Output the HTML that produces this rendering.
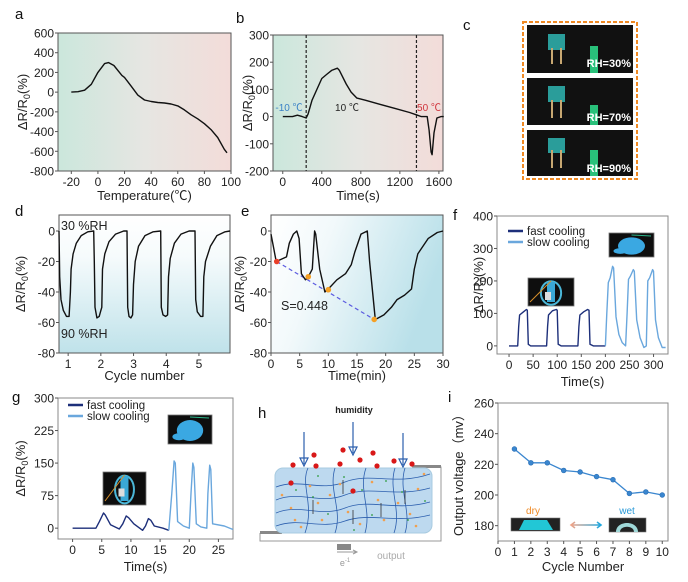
<!DOCTYPE html>
<html><head><meta charset="utf-8">
<style>
html,body{margin:0;padding:0;background:#fff;}
svg{display:block;font-family:"Liberation Sans","Noto Sans CJK SC",sans-serif;}
</style></head>
<body>
<svg id="fig" width="688" height="582" viewBox="0 0 688 582" xmlns="http://www.w3.org/2000/svg">
<defs>
<linearGradient id="gA" x1="0" x2="1" y1="0" y2="0"><stop offset="0" stop-color="#cbe7dc"/><stop offset="0.5" stop-color="#e6e6e2"/><stop offset="1" stop-color="#f3dcd9"/></linearGradient>
<linearGradient id="gD" x1="0" x2="0" y1="0" y2="1"><stop offset="0" stop-color="#ffffff"/><stop offset="0.3" stop-color="#f6fbfc"/><stop offset="1" stop-color="#bfe2ea"/></linearGradient>
<linearGradient id="gE" x1="0" x2="1" y1="0" y2="0.3"><stop offset="0" stop-color="#ffffff"/><stop offset="0.35" stop-color="#f2f9fb"/><stop offset="1" stop-color="#b9e0e9"/></linearGradient>
<linearGradient id="gArr" x1="0" x2="1"><stop offset="0" stop-color="#f2a487"/><stop offset="1" stop-color="#1aa7e0"/></linearGradient>
</defs>
<g id="charts"></g>

<g>
<text x="463" y="30" font-size="15" fill="#111">c</text>
<rect x="523" y="22" width="114" height="157" fill="#fff" stroke="#f08a24" stroke-width="2" stroke-dasharray="4,2"/>
<g>
<rect x="527" y="25" width="106" height="48" fill="#111"/>
<rect x="548" y="34" width="17" height="16" fill="#2a9d9a"/>
<rect x="551" y="48" width="2" height="16" fill="#c8a872"/><rect x="560" y="48" width="2" height="16" fill="#c8a872"/>
<rect x="590" y="46" width="8" height="27" fill="#29c07a"/>
<text x="631" y="67" font-size="11" font-weight="bold" fill="#fff" text-anchor="end">RH=30%</text>
</g>
<g>
<rect x="527" y="78" width="106" height="47" fill="#111"/>
<rect x="548" y="86" width="17" height="16" fill="#2a9d9a"/>
<rect x="551" y="100" width="2" height="18" fill="#c8a872"/><rect x="560" y="100" width="2" height="18" fill="#c8a872"/>
<rect x="590" y="105" width="8" height="20" fill="#29c07a"/>
<text x="631" y="121" font-size="11" font-weight="bold" fill="#fff" text-anchor="end">RH=70%</text>
</g>
<g>
<rect x="527" y="130" width="106" height="46" fill="#111"/>
<rect x="548" y="138" width="17" height="15" fill="#2a9d9a"/>
<rect x="551" y="150" width="2" height="18" fill="#c8a872"/><rect x="560" y="150" width="2" height="18" fill="#c8a872"/>
<rect x="590" y="150" width="8" height="26" fill="#29c07a"/>
<text x="631" y="172" font-size="11" font-weight="bold" fill="#fff" text-anchor="end">RH=90%</text>
</g>
</g>

<g>
<text x="258" y="418" font-size="15" fill="#111">h</text>
<text x="354" y="413" font-size="9" font-weight="bold" fill="#222" text-anchor="middle">humidity</text>
<path d="M260,533 V541 H441 V467 H412" fill="none" stroke="#999" stroke-width="1"/>
<rect x="260" y="531" width="22" height="3" fill="#888"/>
<rect x="413" y="465" width="28" height="3" fill="#888"/>
<rect x="337" y="544" width="14" height="6" fill="#888"/>
<rect x="275" y="468" width="157" height="65" rx="8" fill="#bdd9ef" stroke="#a8cbe0"/>
<g fill="none" stroke="#2c5fae" stroke-width="0.8">
<path d="M276,487 C300,478 320,492 345,482 C370,472 395,486 430,474"/>
<path d="M276,500 C300,490 320,505 345,495 C370,485 395,498 430,488"/>
<path d="M276,513 C300,503 320,518 345,508 C370,498 395,512 430,502"/>
<path d="M276,526 C300,517 320,530 345,521 C370,512 395,524 430,515"/>
<path d="M308,468 C300,485 315,505 305,533"/>
<path d="M335,468 C328,490 343,510 335,533"/>
<path d="M366,468 C358,490 372,510 365,533"/>
<path d="M395,468 C388,490 402,510 394,533"/>
<path d="M405,468 C398,490 412,512 405,533"/>
</g>
<g stroke="#2c5fae" stroke-width="1.2" fill="#2c5fae">
<line x1="304" y1="432" x2="304" y2="464"/><path d="M300,458 L304,466 L308,458Z" fill="none"/>
<line x1="353" y1="422" x2="353" y2="453"/><path d="M349,447 L353,455 L357,447Z" fill="none"/>
<line x1="403" y1="433" x2="403" y2="465"/><path d="M399,459 L403,467 L407,459Z" fill="none"/>
</g>
<g fill="#d81818">
<circle cx="293" cy="465" r="2.6"/><circle cx="314" cy="455" r="2.6"/><circle cx="316" cy="466" r="2.6"/>
<circle cx="343" cy="450" r="2.6"/><circle cx="340" cy="464" r="2.6"/><circle cx="360" cy="460" r="2.6"/>
<circle cx="373" cy="453" r="2.6"/><circle cx="377" cy="466" r="2.6"/><circle cx="394" cy="461" r="2.6"/>
<circle cx="412" cy="464" r="2.6"/><circle cx="291" cy="483" r="2.6"/><circle cx="353" cy="491" r="2.6"/>
</g>
<g fill="#f0a050">
<circle cx="282" cy="495" r="1.3"/><circle cx="291" cy="508" r="1.3"/><circle cx="295" cy="520" r="1.3"/><circle cx="310" cy="486" r="1.3"/>
<circle cx="318" cy="503" r="1.3"/><circle cx="322" cy="520" r="1.3"/><circle cx="340" cy="484" r="1.3"/><circle cx="348" cy="512" r="1.3"/>
<circle cx="372" cy="482" r="1.3"/><circle cx="378" cy="500" r="1.3"/><circle cx="384" cy="520" r="1.3"/><circle cx="398" cy="503" r="1.3"/>
<circle cx="410" cy="514" r="1.3"/><circle cx="418" cy="489" r="1.3"/><circle cx="424" cy="474" r="1.3"/><circle cx="416" cy="526" r="1.3"/>
<circle cx="301" cy="527" r="1.3"/><circle cx="360" cy="524" r="1.3"/><circle cx="330" cy="495" r="1.3"/>
</g>
<g fill="#2a9a3a">
<circle cx="296" cy="490" r="0.9"/><circle cx="313" cy="497" r="0.9"/><circle cx="328" cy="514" r="0.9"/><circle cx="344" cy="477" r="0.9"/>
<circle cx="362" cy="490" r="0.9"/><circle cx="372" cy="515" r="0.9"/><circle cx="386" cy="481" r="0.9"/><circle cx="402" cy="492" r="0.9"/>
<circle cx="408" cy="520" r="0.9"/><circle cx="425" cy="501" r="0.9"/><circle cx="318" cy="476" r="0.9"/><circle cx="354" cy="530" r="0.9"/>
</g>
<g stroke="#333" stroke-width="0.8" fill="#333">
<line x1="313" y1="500" x2="313" y2="514"/><line x1="343" y1="480" x2="343" y2="494"/><line x1="353" y1="510" x2="353" y2="524"/>
<line x1="381" y1="503" x2="381" y2="517"/><line x1="405" y1="490" x2="405" y2="504"/>
</g>
<line x1="337" y1="552" x2="356" y2="552" stroke="#999" stroke-width="1"/>
<path d="M353,550 L357,552 L353,554" fill="none" stroke="#999"/>
<text x="345" y="566" font-size="9" fill="#999" text-anchor="middle">e<tspan font-size="6" dy="-4">-1</tspan></text>
<text x="391" y="559" font-size="10" fill="#aaa" text-anchor="middle">output</text>
</g>
</svg>
<script>
const aTemp = [-20,-15,-10,-5,0,5,8,12,18,20,25,30,35,40,45,50,55,60,65,70,75,80,85,90,95,97];
const aResp = [0,5,20,80,200,290,300,270,170,150,60,-30,-80,-95,-105,-110,-120,-140,-180,-230,-270,-320,-380,-460,-580,-615];
const aXTicks = [-20,0,20,40,60,80,100];
const aYTicks = [600,400,200,0,-200,-400,-600,-800];

const bTime = [0,100,150,200,240,260,300,350,400,450,500,560,580,650,700,760,850,1000,1150,1300,1380,1420,1480,1500,1520,1530,1550,1580,1620,1650];
const bResp = [0,0,5,0,-5,10,60,100,140,155,170,178,170,120,90,68,60,45,30,15,5,0,0,-50,-130,-140,-60,-5,0,0];
const bXTicks = [0,400,800,1200,1600];
const bYTicks = [300,200,100,0,-100,-200];
const bDashes = [240,1370];

const dCycle = [0.72,0.74,0.78,0.85,0.95,1.03,1.07,1.09,1.15,1.25,1.4,1.6,1.78,1.80,1.82,1.88,1.95,2.0,2.03,2.05,2.12,2.25,2.45,2.7,2.80,2.82,2.86,2.92,2.97,3.0,3.05,3.15,3.35,3.6,3.83,3.85,3.9,3.98,4.04,4.07,4.12,4.25,4.45,4.7,4.88,4.90,4.95,5.05,5.12,5.15,5.2,5.35,5.55,5.8,5.95];
const dResp = [0,-30,-45,-52,-56,-56,-40,-25,-15,-8,-3,-0.5,0,-20,-50,-57,-56,-52,-50,-25,-15,-7,-2,0,0,-50,-56,-57,-55,-35,-20,-10,-3,-0.5,0,-50,-55,-56,-55,-30,-18,-8,-2,0,0,-45,-53,-56,-56,-30,-20,-10,-3,-0.5,0];
const dXTicks = [1,2,3,4,5];
const dYTicks = [0,-20,-40,-60,-80];

const eTime = [0,0.5,0.9,1.5,2.7,3.2,3.9,4.5,4.9,5.3,6.0,6.5,7.2,7.6,7.8,8.5,9.4,10,11.5,13,14,14.6,15.7,16.8,17.2,18.2,19.7,21,22,23.3,24.5,25,25.6,27.4,29,30];
const eResp = [-2,-12,-20,-19,-17,-8,-2,0,-5,-28,-32,-30,-25,0,-2,-25,-40,-38,-32,-28,-22,-14,-2,0,-20,-58,-55,-50,-45,-42,-38,-25,-15,-5,-1,0];
const eMarkT = [1,6.5,10,18];
const eMarkV = [-20,-30,-38.5,-58];
const eXTicks = [0,5,10,15,20,25,30];
const eYTicks = [0,-20,-40,-60,-80];

const fFastT = [0,18,20,22,30,36,38,40,45,60,78,80,82,90,98,100,102,108,130,143,145,147,155,163,166,168,175,200];
const fFastV = [0,0,60,95,105,112,110,5,0,0,0,60,95,108,112,110,5,0,0,0,60,95,105,112,110,5,0,0];
const fSlowT = [200,203,206,210,215,217,222,228,235,242,245,248,252,258,260,265,272,280,285,288,292,298,300,304,310,318,325];
const fSlowV = [0,100,195,210,245,240,90,35,10,0,100,205,215,235,230,80,25,-5,0,200,210,235,230,80,25,-5,-5];
const fXTicks = [0,50,100,150,200,250,300];
const fYTicks = [0,100,200,300,400];

const gFastT = [0,2,4,4.6,5.3,5.6,6.5,8,8.6,9.2,9.6,10.5,12,12.5,13,13.4,14,15.5,16.5];
const gFastV = [0,0,0,15,35,30,8,-2,10,28,24,10,-5,5,22,18,5,0,-5];
const gSlowT = [16.5,17.0,17.4,17.6,18.0,19,20,20.3,20.6,20.8,21.2,22,23,23.2,23.5,23.7,24,26,27.5];
const gSlowV = [-5,80,155,150,15,5,0,80,150,140,10,3,0,80,145,135,10,5,-3];
const gXTicks = [0,5,10,15,20,25];
const gYTicks = [0,75,150,225,300];

const iCycle = [1,2,3,4,5,6,7,8,9,10];
const iVolt = [230,221,221,216,215,212,210,201,202,200];
const iXTicks = [0,1,2,3,4,5,6,7,8,9,10];
const iYTicks = [180,200,220,240,260];

const NS = 'http://www.w3.org/2000/svg';
const root = document.getElementById('charts');
function mk(tag, attrs, parent) {
  const e = document.createElementNS(NS, tag);
  for (const k in attrs) e.setAttribute(k, attrs[k]);
  (parent || root).appendChild(e);
  return e;
}
function txt(str, x, y, size, anchor, parent, fill) {
  const t = mk('text', {x: x, y: y, 'font-size': size, 'text-anchor': anchor || 'middle', fill: fill || '#222'}, parent);
  t.textContent = str;
  return t;
}
function panel(c) {
  const g = mk('g', {});
  
  
  const sx = v => c.x0 + (v - c.xmin) / (c.xmax - c.xmin) * (c.x1 - c.x0);
  const sy = v => c.y1 - (v - c.ymin) / (c.ymax - c.ymin) * (c.y1 - c.y0);
  const bg = mk('rect', {x: c.x0, y: c.y0, width: c.x1 - c.x0, height: c.y1 - c.y0, fill: c.bg || '#fff'}, g);
  
  
  const frame = mk('rect', {x: c.x0, y: c.y0, width: c.x1 - c.x0, height: c.y1 - c.y0, fill: 'none', stroke: c.frame || '#555', 'stroke-width': 1}, g);
  
  
  const xa = mk('g', {}, g);
  
  
  c.xt.forEach(v => {
    mk('line', {x1: sx(v), x2: sx(v), y1: c.y1, y2: c.y1 + 3, stroke: '#555'}, xa);
    const t = txt(String(v), sx(v), c.y1 + 15, 12, 'middle', xa);
    
    
  });
  const ya = mk('g', {}, g);
  
  
  c.yt.forEach(v => {
    mk('line', {x1: c.x0 - 3, x2: c.x0, y1: sy(v), y2: sy(v), stroke: '#555'}, ya);
    const t = txt(String(v), c.x0 - 4, sy(v) + 4.5, 12, 'end', ya);
    
    
  });
  const xl = txt(c.xlab, (c.x0 + c.x1) / 2, c.xly, 13, 'middle', g);
  
  
  const ycy = (c.y0 + c.y1) / 2;
  const yl = mk('text', {x: c.ylx, y: ycy, 'font-size': 13, 'text-anchor': 'middle', fill: '#222', transform: 'rotate(-90 ' + c.ylx + ' ' + ycy + ')'}, g);
  
  
  if (c.ylab) { yl.textContent = c.ylab; }
  else { yl.innerHTML = 'ΔR/R<tspan font-size="9" dy="3">0</tspan><tspan dy="-3">(%)</tspan>'; }
  const pl = txt(c.letter, c.lx, c.ly, 15, 'start', g, '#111');
  
  
  return {g: g, sx: sx, sy: sy};
}
function line(p, xs, ys, color, w) {
  const d = xs.map((v, i) => (i ? 'L' : 'M') + p.sx(v).toFixed(1) + ',' + p.sy(ys[i]).toFixed(1)).join(' ');
  return mk('path', {d: d, fill: 'none', stroke: color, 'stroke-width': w || 1.4, 'stroke-linejoin': 'round'}, p.g);
}
function photo(parent, x, y, w, h, kind) {
  const g = mk('g', {}, parent);
  mk('rect', {x: x, y: y, width: w, height: h, fill: '#0e0e0e', stroke: '#777', 'stroke-width': 0.8}, g);
  if (kind === 1) {
    mk('ellipse', {cx: x + w / 2, cy: y + h / 2 + 1, rx: w * 0.22, ry: h * 0.42, fill: 'none', stroke: '#4bb7d8', 'stroke-width': 2}, g);
    mk('rect', {x: x + w / 2 - 4, y: y + 4, width: 8, height: h - 8, fill: '#3aa8d6'}, g);
    mk('rect', {x: x + w / 2 - 6, y: y + h / 2, width: 6, height: 8, fill: '#ddd'}, g);
    mk('line', {x1: x + 2, y1: y + h - 4, x2: x + w / 2, y2: y + 3, stroke: '#d9902a', 'stroke-width': 1}, g);
  } else {
    mk('ellipse', {cx: x + w / 2, cy: y + h / 2 + 1, rx: w * 0.3, ry: h * 0.36, fill: '#3aa8e2'}, g);
    mk('ellipse', {cx: x + w * 0.25, cy: y + h * 0.75, rx: w * 0.15, ry: h * 0.12, fill: '#3aa8e2'}, g);
    mk('line', {x1: x + w / 2, y1: y + 2, x2: x + w - 3, y2: y + 3, stroke: '#2bb58a', 'stroke-width': 1}, g);
  }
  return g;
}
function legend(p, x, y) {
  mk('line', {x1: x, x2: x + 15, y1: y, y2: y, stroke: '#1d2f7a', 'stroke-width': 2.5}, p.g);
  txt('fast  cooling', x + 19, y + 4, 11.5, 'start', p.g);
  mk('line', {x1: x, x2: x + 15, y1: y + 11, y2: y + 11, stroke: '#6aa7dd', 'stroke-width': 2.5}, p.g);
  txt('slow cooling', x + 19, y + 15, 11.5, 'start', p.g);
}

const pa = panel({name: 'panel-a-temperature', x0: 58, x1: 231, y0: 33, y1: 171, xmin: -30, xmax: 100, ymin: -800, ymax: 600,
  xt: aXTicks, yt: aYTicks, xlab: 'Temperature(℃)', xly: 200, ylx: 27, letter: 'a', lx: 15, ly: 19, bg: 'url(#gA)'});
const la = line(pa, aTemp, aResp, '#111', 1.4);



const pb = panel({name: 'panel-b-time', x0: 273, x1: 443, y0: 35, y1: 171, xmin: -100, xmax: 1642, ymin: -200, ymax: 300,
  xt: bXTicks, yt: bYTicks, xlab: 'Time(s)', xly: 200, ylx: 252, letter: 'b', lx: 236, ly: 23, bg: 'url(#gA)'});
bDashes.forEach(v => {
  const dl = mk('line', {x1: pb.sx(v), x2: pb.sx(v), y1: 35, y2: 171, stroke: '#222', 'stroke-width': 1.2, 'stroke-dasharray': '3,2'}, pb.g);
  
  
});
const lb = line(pb, bTime, bResp, '#111', 1.4);


const t1 = txt('-10 ℃', 289, 111, 10, 'middle', pb.g, '#3a82c6');


const t2 = txt('10 ℃', 347, 111, 10, 'middle', pb.g, '#222');


const t3 = txt('50 ℃', 429, 111, 10, 'middle', pb.g, '#d0343c');



const pd = panel({name: 'panel-d-cycles', x0: 59, x1: 230, y0: 215, y1: 353, xmin: 0.72, xmax: 5.95, ymin: -80, ymax: 10.5,
  xt: dXTicks, yt: dYTicks, xlab: 'Cycle number', xly: 380, ylx: 25, letter: 'd', lx: 15, ly: 216, bg: 'url(#gD)'});
const ld = line(pd, dCycle, dResp, '#111', 1.4);


const dt1 = txt('30 %RH', 61, 230, 12.5, 'start', pd.g);


const dt2 = txt('90 %RH', 61, 338, 12.5, 'start', pd.g);



const pe = panel({name: 'panel-e-sensitivity', x0: 271, x1: 443, y0: 215, y1: 353, xmin: 0, xmax: 30, ymin: -80, ymax: 10.5,
  xt: eXTicks, yt: eYTicks, xlab: 'Time(min)', xly: 380, ylx: 244, letter: 'e', lx: 241, ly: 216, bg: 'url(#gE)'});
const fitLine = mk('line', {x1: pe.sx(eMarkT[0]), y1: pe.sy(eMarkV[0]), x2: pe.sx(eMarkT[eMarkT.length - 1]), y2: pe.sy(eMarkV[eMarkV.length - 1]), stroke: '#5b5be0', 'stroke-width': 1.2, 'stroke-dasharray': '4,3'}, pe.g);


const le = line(pe, eTime, eResp, '#111', 1.4);


eMarkT.forEach((v, i) => {
  const m = mk('circle', {cx: pe.sx(v), cy: pe.sy(eMarkV[i]), r: 2.8, fill: i === 0 ? '#e8402a' : '#f5a024'}, pe.g);
  
  
});
const st = txt('S=0.448', 281, 310, 12.5, 'start', pe.g);



const pf = panel({name: 'panel-f-cooling', x0: 497, x1: 668, y0: 216, y1: 354, xmin: -25, xmax: 330, ymin: -25, ymax: 400,
  xt: fXTicks, yt: fYTicks, xlab: 'Time(s)', xly: 386, ylx: 483, letter: 'f', lx: 453, ly: 220, frame: '#888'});
const lf1 = line(pf, fFastT, fFastV, '#1d2f7a', 1.4);


const lf2 = line(pf, fSlowT, fSlowV, '#6aa7dd', 1.4);


legend(pf, 508, 231);
const pf1 = photo(pf.g, 528, 278, 46, 28, 1);


const pf2 = photo(pf.g, 609, 233, 45, 24, 2);



const pg = panel({name: 'panel-g-cooling', x0: 58, x1: 233, y0: 398, y1: 539, xmin: -2.5, xmax: 27.5, ymin: -25, ymax: 300,
  xt: gXTicks, yt: gYTicks, xlab: 'Time(s)', xly: 571, ylx: 25, letter: 'g', lx: 12, ly: 402, frame: '#888'});
const lg1 = line(pg, gFastT, gFastV, '#1d2f7a', 1.4);


const lg2 = line(pg, gSlowT, gSlowV, '#6aa7dd', 1.4);


legend(pg, 68, 405);
const pg1 = photo(pg.g, 103, 472, 43, 33, 1);


const pg2 = photo(pg.g, 168, 415, 44, 29, 2);



const pi = panel({name: 'panel-i-voltage', x0: 498, x1: 668, y0: 403, y1: 541, xmin: 0, xmax: 10.35, ymin: 170, ymax: 260,
  xt: iXTicks, yt: iYTicks, xlab: 'Cycle Number', xly: 571, ylx: 463, ylab: 'Output voltage（mv）', letter: 'i', lx: 448, ly: 402, frame: '#888'});
const li = line(pi, iCycle, iVolt, '#3a86cf', 1.3);


iCycle.forEach((v, i) => {
  const m = mk('circle', {cx: pi.sx(v), cy: pi.sy(iVolt[i]), r: 2.4, fill: '#3a86cf', stroke: '#2a6fb5', 'stroke-width': 0.6}, pi.g);
  
  
});
const dryImg = mk('rect', {x: 511, y: 518, width: 49, height: 13, fill: '#222', stroke: '#777', 'stroke-width': 0.6}, pi.g);


mk('path', {d: 'M519,530 L524,520 L547,520 L553,530Z', fill: '#22c7d6'}, pi.g);
const dryT = txt('dry', 533, 514, 10, 'middle', pi.g, '#f08a24');


const arr = mk('path', {d: 'M571,525 L601,525 M575,522 L571,525 L575,528 M597,522 L601,525 L597,528', stroke: 'url(#gArr)', 'stroke-width': 1.6, fill: 'none'}, pi.g);


const wetImg = mk('rect', {x: 609, y: 518, width: 37, height: 14, fill: '#222', stroke: '#777', 'stroke-width': 0.6}, pi.g);


mk('path', {d: 'M616,532 C616,520 638,520 638,532 L634,532 C634,525 620,525 620,532Z', fill: '#9fd8d8'}, pi.g);
const wetT = txt('wet', 627, 514, 10, 'middle', pi.g, '#2a9ad8');


</script>
</body></html>
